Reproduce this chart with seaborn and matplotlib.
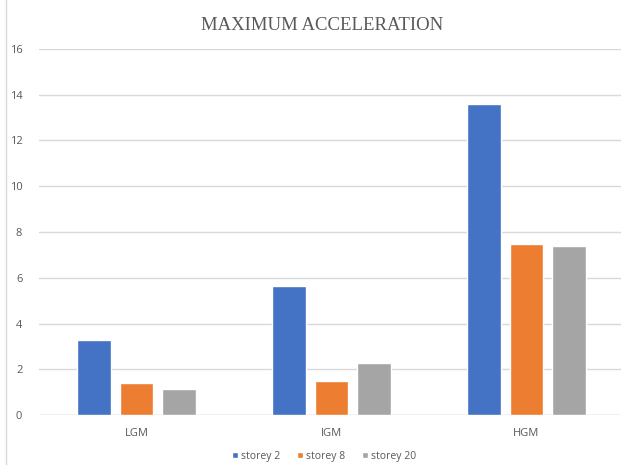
import matplotlib
matplotlib.use("Agg")
import matplotlib.pyplot as plt
import seaborn as sns
import pandas as pd
from matplotlib.lines import Line2D

# Peak acceleration per ground-motion level and building height
categories = ["LGM", "IGM", "HGM"]
series_names = ["storey 2", "storey 8", "storey 20"]
storey_2 = [3.28, 5.65, 13.6]
storey_8 = [1.41, 1.5, 7.47]
storey_20 = [1.15, 2.29, 7.37]
y_ticks = [0, 2, 4, 6, 8, 10, 12, 14, 16]

df = pd.DataFrame({
    "motion": categories * 3,
    "series": [s for s in series_names for _ in categories],
    "value": storey_2 + storey_8 + storey_20,
})

sns.set_theme(style="white")
plt.rcParams["font.family"] = ["Open Sans", "DejaVu Sans"]

W, H = 621, 465
fig = plt.figure(figsize=(W / 100, H / 100), dpi=100)
ax = fig.add_axes([39 / W, (H - 415) / H, (W - 39) / W, (415 - 49) / H])

palette = ["#4472C4", "#ED7D31", "#A5A5A5"]
sns.barplot(data=df, x="motion", y="value", hue="series", order=categories,
            hue_order=series_names, palette=palette, width=0.66, gap=0.21,
            saturation=1, ax=ax, legend=True)

ax.set_ylim(0, 16)
ax.set_xlim(-0.5, 2.5 - 3 / 195)
ax.set_yticks(y_ticks)
ax.set_yticklabels([str(t) for t in y_ticks])
ax.yaxis.grid(True, color="#d9d9d9", linewidth=1.0)
ax.set_axisbelow(True)
for side in ["left", "right", "top", "bottom"]:
    ax.spines[side].set_visible(False)
ax.axhline(0, color="#d9d9d9", linewidth=1.0, zorder=0)
ax.tick_params(axis="both", length=0, colors="#595959", labelsize=8)
ax.tick_params(axis="y", pad=12)
ax.tick_params(axis="x", pad=9)
ax.set_xlabel("")
ax.set_ylabel("")

leg = ax.legend(loc="center", bbox_to_anchor=(324 / W, 9 / H),
                bbox_transform=fig.transFigure, ncol=3, frameon=False,
                fontsize=7.5, handlelength=0.6, handleheight=0.6,
                handletextpad=0.3, columnspacing=1.6, borderpad=0)
for t in leg.get_texts():
    t.set_color("#595959")

fig.text(322 / W, (H - 25) / H, "MAXIMUM ACCELERATION", ha="center", va="center",
         fontsize=13.5, color="#595959", family=["Liberation Serif", "DejaVu Serif"])

# left edge of the chart frame
fig.add_artist(Line2D([6 / W, 6 / W], [0, 1], transform=fig.transFigure,
                      color="#d9d9d9", linewidth=1.0))

fig.savefig("out.png", dpi=100)
